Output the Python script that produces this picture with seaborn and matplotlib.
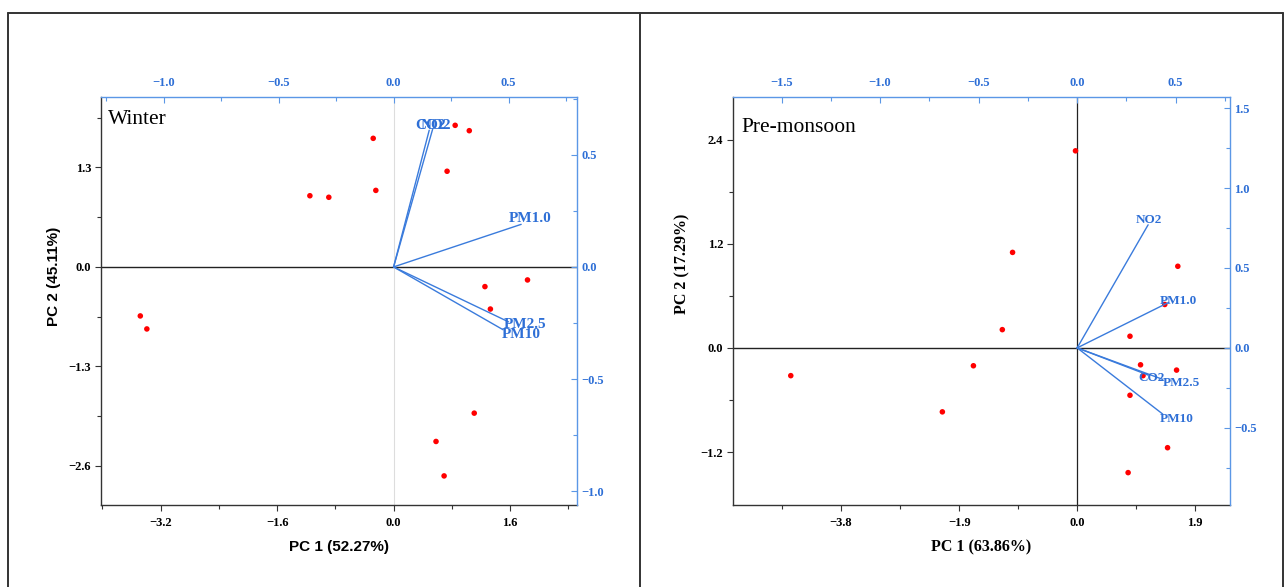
import numpy as np
import pandas as pd
import matplotlib
matplotlib.use("Agg")
import matplotlib.pyplot as plt
from matplotlib.lines import Line2D
from matplotlib.ticker import FixedLocator, MultipleLocator
import seaborn as sns

# ---- Winter: PCA scores and variable loadings ----
winter_pc1 = [-0.28, 0.846, 1.04, 0.735, -0.244, -1.15, -0.89, 1.84, 1.255, 1.33,
              -3.48, -3.39, 1.108, 0.583, 0.694]
winter_pc2 = [1.68, 1.85, 1.78, 1.25, 1.00, 0.93, 0.91, -0.17, -0.257, -0.55,
              -0.64, -0.81, -1.91, -2.28, -2.73]
winter_vars = ["CO2", "NO2", "PM1.0", "PM2.5", "PM10"]
winter_load1 = [0.155, 0.170, 0.555, 0.500, 0.476]
winter_load2 = [0.610, 0.615, 0.190, -0.245, -0.280]

# ---- Pre-monsoon: PCA scores and variable loadings ----
premon_pc1 = [-0.027, -1.04, 1.62, 1.41, -1.205, 0.85, 1.02, 1.06, 1.60, -1.67,
              -4.61, 0.85, -2.17, 1.455, 0.82]
premon_pc2 = [2.27, 1.10, 0.94, 0.50, 0.21, 0.134, -0.195, -0.32, -0.256, -0.206,
              -0.32, -0.546, -0.737, -1.15, -1.437]
premon_vars = ["NO2", "PM1.0", "CO2", "PM2.5", "PM10"]
premon_load1 = [0.36, 0.465, 0.36, 0.434, 0.434]
premon_load2 = [0.77, 0.285, -0.17, -0.197, -0.414]

sns.set_theme(style="white")
plt.rcParams["font.family"] = ["Liberation Serif", "DejaVu Serif"]
plt.rcParams["axes.linewidth"] = 1.0

BLUE_TXT = "#2E6FD6"
BLUE_LINE = "#3A7BDC"
BLUE_SPINE = "#5B97E6"
DARK = "#333333"

W, H = 1285, 587
fig = plt.figure(figsize=(W / 100, H / 100), dpi=100)


def rect(x0, y0, x1, y1):
    return [x0 / W, 1 - y1 / H, (x1 - x0) / W, (y1 - y0) / H]


def px2pt(v):
    return v * 72 / 100


def draw_panel(pos, sx, sy, lx, ly, names, cfg):
    ax = fig.add_axes(pos)
    ax.set_facecolor("white")
    df = pd.DataFrame({"pc1": sx, "pc2": sy})
    ax.axhline(0, color="#222222", lw=1.0, zorder=1)
    ax.axvline(0, color=cfg["vcolor"], lw=cfg["vlw"], zorder=1)
    sns.scatterplot(data=df, x="pc1", y="pc2", ax=ax, color="#FF0000",
                    s=16, edgecolor="none", linewidth=0, zorder=3)
    ax.set_xlim(*cfg["xlim"])
    ax.set_ylim(*cfg["ylim"])
    ax.xaxis.set_major_locator(FixedLocator(cfg["xticks"]))
    ax.xaxis.set_minor_locator(FixedLocator(cfg["xminor"]))
    ax.yaxis.set_major_locator(FixedLocator(cfg["yticks"]))
    ax.yaxis.set_minor_locator(FixedLocator(cfg["yminor"]))
    ax.set_xticklabels([f"{t:.1f}".replace("-", "\u2212") for t in cfg["xticks"]])
    ax.set_yticklabels([f"{t:.1f}".replace("-", "\u2212") for t in cfg["yticks"]])
    ax.tick_params(axis="both", which="both", direction="out", colors=DARK,
                   labelcolor="black", labelsize=9, width=0.8)
    ax.tick_params(axis="both", which="major", length=4)
    ax.tick_params(axis="both", which="minor", length=3)
    ax.tick_params(axis="x", pad=5, bottom=True, which="both")
    ax.tick_params(axis="y", pad=3, left=True, which="both")
    for lab in ax.get_xticklabels() + ax.get_yticklabels():
        lab.set_fontweight("bold")
    for s in ("top", "right"):
        ax.spines[s].set_visible(False)
    for s in ("left", "bottom"):
        ax.spines[s].set_color(DARK)
        ax.spines[s].set_linewidth(1.0)

    lab_font = dict(fontsize=cfg["labsize"], fontweight="bold",
                    family=cfg["labfamily"], color="black")
    ax.set_xlabel(cfg["xlabel"], **lab_font)
    ax.set_ylabel(cfg["ylabel"], **lab_font)
    ax.xaxis.set_label_coords(0.5, cfg["xlab_y"])
    ax.yaxis.set_label_coords(cfg["ylab_x"], cfg["ylab_y"])

    ax.text(cfg["title_xy"][0], cfg["title_xy"][1], cfg["title"],
            transform=ax.transAxes, fontsize=15.5, ha="left", va="center",
            color="black")

    # loadings on their own top/right scales
    ax2 = fig.add_axes(pos, facecolor="none")
    ax2.set_xlim(*cfg["lxlim"])
    ax2.set_ylim(*cfg["lylim"])
    for x, y in zip(lx, ly):
        ax2.plot([0, x], [0, y], color=BLUE_LINE, lw=1.0, zorder=2)
    for name, x, y in zip(names, lx, ly):
        dx, dy = cfg["offsets"][name]
        ax2.annotate(name, (x, y), xytext=(px2pt(dx), px2pt(dy)),
                     textcoords="offset points", ha="center", va="center",
                     fontsize=cfg["loadsize"], fontweight="bold",
                     color=BLUE_TXT)
    ax2.xaxis.tick_top()
    ax2.yaxis.tick_right()
    ax2.xaxis.set_major_locator(FixedLocator(cfg["lxticks"]))
    ax2.xaxis.set_minor_locator(MultipleLocator(0.25))
    ax2.yaxis.set_major_locator(FixedLocator(cfg["lyticks"]))
    ax2.yaxis.set_minor_locator(MultipleLocator(0.25))
    ax2.set_xticklabels([f"{t:.1f}".replace("-", "\u2212") for t in cfg["lxticks"]])
    ax2.set_yticklabels([f"{t:.1f}".replace("-", "\u2212") for t in cfg["lyticks"]])
    ax2.tick_params(axis="both", which="both", direction="in", colors=BLUE_SPINE,
                    labelcolor=BLUE_TXT, labelsize=9, width=0.8)
    ax2.tick_params(axis="both", which="major", length=4)
    ax2.tick_params(axis="both", which="minor", length=3)
    ax2.tick_params(axis="x", pad=6, top=True, bottom=False, which="both")
    ax2.tick_params(axis="y", pad=3, right=True, left=False, which="both")
    for lab in ax2.get_xticklabels() + ax2.get_yticklabels():
        lab.set_fontweight("bold")
    for s in ("left", "bottom"):
        ax2.spines[s].set_visible(False)
    for s in ("top", "right"):
        ax2.spines[s].set_color(BLUE_SPINE)
        ax2.spines[s].set_linewidth(1.0)
    ax2.grid(False)
    ax.grid(False)
    return ax, ax2


# score / loading scales share their origin
w_xlim = (-4.02, 2.52)
w_ylim = (-3.11, 2.22)
w_kx = 72.5 / 229.0
w_ky = 76.5 / 224.0
winter_cfg = dict(
    xlim=w_xlim, ylim=w_ylim,
    lxlim=(w_xlim[0] * w_kx, w_xlim[1] * w_kx),
    lylim=(w_ylim[0] * w_ky, w_ylim[1] * w_ky),
    xticks=[-3.2, -1.6, 0.0, 1.6], xminor=[-4.0, -2.4, -0.8, 0.8, 2.4],
    yticks=[-2.6, -1.3, 0.0, 1.3], yminor=[-1.95, -0.65, 0.65, 1.95],
    lxticks=[-1.0, -0.5, 0.0, 0.5], lyticks=[-1.0, -0.5, 0.0, 0.5],
    vcolor="#DDDDDD", vlw=0.8,
    xlabel="PC 1 (52.27%)", ylabel="PC 2 (45.11%)",
    labfamily=["Liberation Sans", "DejaVu Sans"], labsize=11,
    xlab_y=-0.085, ylab_x=-0.085, ylab_y=0.56,
    title="Winter", title_xy=(0.014, 0.944),
    loadsize=11,
    offsets={"CO2": (1.5, 5), "NO2": (3, 4), "PM1.0": (9, 6),
             "PM2.5": (17, -3), "PM10": (18, -5)},
)

p_xlim = (-5.54, 2.46)
p_ylim = (-1.81, 2.89)
p_kx = 62.1 / 197.0
p_ky = 86.9 / 160.0
premon_cfg = dict(
    xlim=p_xlim, ylim=p_ylim,
    lxlim=(p_xlim[0] * p_kx, p_xlim[1] * p_kx),
    lylim=(p_ylim[0] * p_ky, p_ylim[1] * p_ky),
    xticks=[-3.8, -1.9, 0.0, 1.9], xminor=[-4.75, -2.85, -0.95, 0.95],
    yticks=[-1.2, 0.0, 1.2, 2.4], yminor=[-0.6, 0.6, 1.8],
    lxticks=[-1.5, -1.0, -0.5, 0.0, 0.5], lyticks=[-0.5, 0.0, 0.5, 1.0, 1.5],
    vcolor="#222222", vlw=0.9,
    xlabel="PC 1 (63.86%)", ylabel="PC 2 (17.29%)",
    labfamily=["Liberation Serif", "DejaVu Serif"], labsize=11.5,
    xlab_y=-0.085, ylab_x=-0.085, ylab_y=0.59,
    title="Pre-monsoon", title_xy=(0.016, 0.926),
    loadsize=9.5,
    offsets={"NO2": (1, 5), "PM1.0": (9.5, 1), "CO2": (3.5, -3),
             "PM2.5": (19, -3.5), "PM10": (13.5, -5)},
)

draw_panel(rect(101, 97, 577, 505), winter_pc1, winter_pc2,
           winter_load1, winter_load2, winter_vars, winter_cfg)
draw_panel(rect(733, 97, 1230, 505), premon_pc1, premon_pc2,
           premon_load1, premon_load2, premon_vars, premon_cfg)

# panel frames
frame = dict(color="#333333", lw=1.4, transform=fig.transFigure)
top_y = 1 - 13 / H
fig.add_artist(Line2D([8 / W, 1283 / W], [top_y, top_y], **frame))
fig.add_artist(Line2D([8 / W, 8 / W], [0, top_y], **frame))
fig.add_artist(Line2D([640 / W, 640 / W], [0, top_y], **frame))
fig.add_artist(Line2D([1283 / W, 1283 / W], [0, top_y], **frame))

fig.savefig("out.png", dpi=100, facecolor="white")
